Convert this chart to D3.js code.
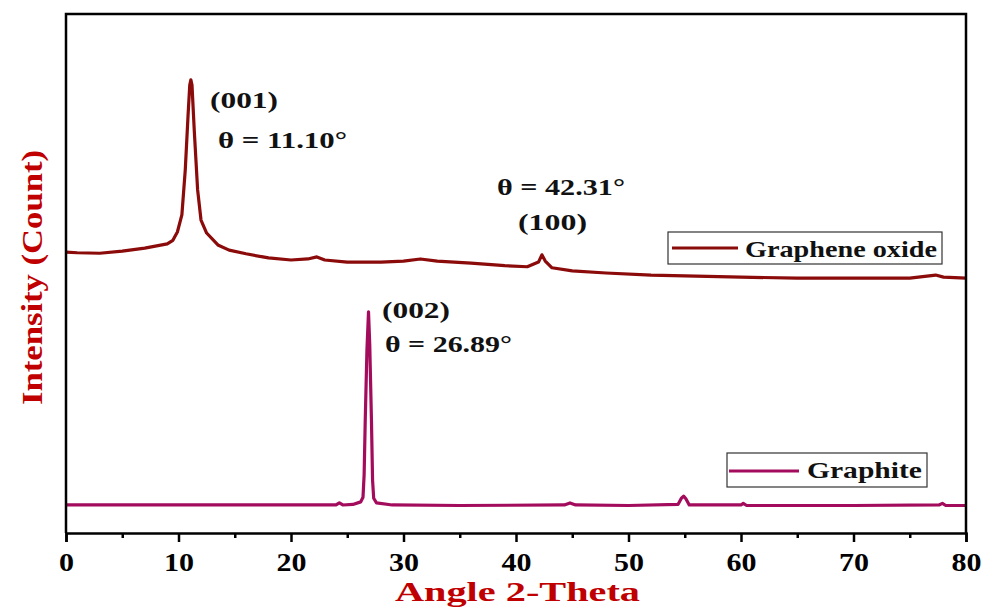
<!DOCTYPE html>
<html>
<head>
<meta charset="utf-8">
<script src="https://cdn.jsdelivr.net/npm/d3@7"></script>
<style>
  body { margin: 0; background: #fff; }
  text { font-family: "Liberation Serif", "Times New Roman", serif; font-weight: bold; }
</style>
</head>
<body>
<div id="vis"></div>
<script>
// XRD patterns: [2-theta (deg), intensity (a.u., offset)]
let grapheneOxide = [
  [0, 541], [1, 540], [3, 539], [5, 543], [7, 549], [9, 557], [9.5, 564],
  [9.9, 580], [10.3, 613], [10.6, 699], [10.85, 805], [11.0, 863], [11.1, 873],
  [11.2, 863], [11.4, 776], [11.7, 661], [12.0, 603], [12.5, 578], [13.5, 555],
  [14.5, 545], [16, 538], [18, 530], [20, 526], [21.5, 528], [22.3, 532],
  [23, 526], [25, 522], [28, 522], [30, 524], [31.5, 528], [33, 524],
  [36, 520], [39, 515], [41, 513], [42.0, 522], [42.3, 536], [42.6, 524],
  [43.2, 511], [45, 505], [48, 501], [52, 497], [56, 495], [60, 493],
  [65, 491], [70, 491], [75, 491], [77.3, 497], [78, 493], [80, 491]
]

let graphite = [
  [0, 54], [10, 54], [20, 54], [24.0, 54], [24.3, 58], [24.6, 54], [25.5, 55],
  [26.2, 60], [26.4, 69], [26.5, 112], [26.6, 218], [26.75, 353], [26.89, 426],
  [27.0, 362], [27.15, 218], [27.25, 102], [27.35, 67], [27.6, 58], [29, 54],
  [35, 53], [44.3, 54], [44.8, 58], [45.3, 54], [50, 53], [54.4, 55],
  [54.7, 67], [54.9, 71], [55.1, 66], [55.4, 54], [60, 54], [60.2, 57],
  [60.5, 53], [70, 53], [77.6, 54], [77.9, 57], [78.2, 53], [80, 53]
]

let majorTicks = [0, 10, 20, 30, 40, 50, 60, 70, 80]
let minorTicks = [5, 15, 25, 35, 45, 55, 65, 75]

let seriesNames = ['Graphene oxide', 'Graphite']
let seriesColors = ['#8b0a0a', '#a30c5c']

let annotationText = [
  ['(001)', 'θ = 11.10°'],
  ['θ = 42.31°', '(100)'],
  ['(002)', 'θ = 26.89°']
]

let W = 985, H = 609
let margin = {top: 14, left: 66, right: 19, bottom: 76}
let width = W - margin.left - margin.right,
  height = H - margin.top - margin.bottom

let svg = d3.select('#vis')
  .append('svg')
  .attr('width', W)
  .attr('height', H)

let g = svg.append('g')
  .attr('transform', 'translate(' + margin.left + ',' + margin.top + ')')

let x = d3.scaleLinear()
  .domain([0, 80])
  .range([0, width])

let y = d3.scaleLinear()
  .domain([0, 1000])
  .range([height, 0])

// curves
let line = d3.line()
  .x(function(d) { return x(d[0]) })
  .y(function(d) { return y(d[1]) })

g.append('path')
  .datum(grapheneOxide)
  .attr('fill', 'none')
  .attr('stroke', seriesColors[0])
  .attr('stroke-width', 3.2)
  .attr('stroke-linejoin', 'round')
  .attr('d', line)

g.append('path')
  .datum(graphite)
  .attr('fill', 'none')
  .attr('stroke', seriesColors[1])
  .attr('stroke-width', 3.2)
  .attr('stroke-linejoin', 'round')
  .attr('d', line)

// frame (left, top, right)
g.append('path')
  .attr('d', 'M0,' + height + 'V0H' + width + 'V' + height)
  .attr('fill', 'none')
  .attr('stroke', '#000')
  .attr('stroke-width', 2.5)

// x axis (labels in the figure are stretched wider than the font)
let xAxis = g.append('g')
  .attr('transform', 'translate(0,' + height + ')')
  .call(d3.axisBottom(x).tickValues(majorTicks).tickSize(9).tickPadding(11).tickFormat(d3.format('d')))
xAxis.select('.domain').attr('stroke-width', 2.5)
xAxis.selectAll('.tick line').attr('stroke-width', 2.5)
xAxis.selectAll('text')
  .attr('font-size', 25)
  .attr('font-family', '"Liberation Serif", serif')
  .attr('font-weight', 'bold')
  .attr('fill', '#000')
  .attr('lengthAdjust', 'spacingAndGlyphs')
  .attr('textLength', function(d) { return String(d).length * 15 })

let xMinor = g.append('g')
  .attr('transform', 'translate(0,' + height + ')')
  .call(d3.axisBottom(x).tickValues(minorTicks).tickSize(5).tickFormat(''))
xMinor.select('.domain').remove()
xMinor.selectAll('.tick line').attr('stroke-width', 2.5)

// axis titles
svg.append('text')
  .attr('x', 395)
  .attr('y', 601)
  .attr('font-size', 28)
  .attr('fill', '#c00000')
  .attr('lengthAdjust', 'spacingAndGlyphs')
  .attr('textLength', 245)
  .text('Angle 2-Theta')

svg.append('text')
  .attr('transform', 'translate(42,405) rotate(-90)')
  .attr('font-size', 30)
  .attr('fill', '#c00000')
  .attr('lengthAdjust', 'spacingAndGlyphs')
  .attr('textLength', 255)
  .text('Intensity (Count)')

// peak annotations: [left, baseline, width] per line
let annPos = [
  [[210, 108, 68], [218, 148, 129]],
  [[497, 195, 128], [518, 230, 69]],
  [[382, 318, 68], [385, 352, 127]]
]
annotationText.forEach(function(lines, k) {
  lines.forEach(function(t, i) {
    let p = annPos[k][i]
    svg.append('text')
      .attr('x', p[0])
      .attr('y', p[1])
      .attr('font-size', 23)
      .attr('fill', '#111')
      .attr('lengthAdjust', 'spacingAndGlyphs')
      .attr('textLength', p[2])
      .text(t)
  })
})

// legends
let legends = [
  {box: [668, 232, 274, 32], line: [672, 738, 248], text: [745, 257, 192]},
  {box: [727, 453, 200, 34], line: [729, 799, 471], text: [807, 478, 115]}
]
legends.forEach(function(l, i) {
  let lg = svg.append('g')
  lg.append('rect')
    .attr('x', l.box[0]).attr('y', l.box[1])
    .attr('width', l.box[2]).attr('height', l.box[3])
    .attr('fill', '#fff')
    .attr('stroke', '#333')
    .attr('stroke-width', 1.2)
  lg.append('line')
    .attr('x1', l.line[0]).attr('x2', l.line[1])
    .attr('y1', l.line[2]).attr('y2', l.line[2])
    .attr('stroke', seriesColors[i])
    .attr('stroke-width', 3.2)
  lg.append('text')
    .attr('x', l.text[0]).attr('y', l.text[1])
    .attr('font-size', 23)
    .attr('fill', '#111')
    .attr('lengthAdjust', 'spacingAndGlyphs')
    .attr('textLength', l.text[2])
    .text(seriesNames[i])
})
</script>
</body>
</html>
